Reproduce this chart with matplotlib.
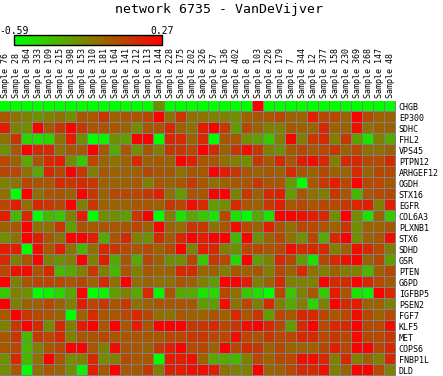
import numpy as np
import matplotlib
matplotlib.use('Agg')
from matplotlib import pyplot as plt
from matplotlib.colors import LinearSegmentedColormap, Normalize
from matplotlib.cm import ScalarMappable

# network heatmap, values
title = 'network 6735 - VanDeVijver'
vmin, vmax = -0.59, 0.27

samples = [76, 28, 364, 333, 109, 215, 398, 153, 310, 181, 164, 141,
           212, 113, 144, 228, 175, 202, 326, 57, 136, 402, 8, 103,
           226, 179, 7, 344, 12, 377, 158, 230, 369, 268, 147, 48]

genes = ['CHGB', 'EP300', 'SDHC', 'FHL2', 'VPS45', 'PTPN12', 'ARHGEF12',
         'OGDH', 'STX16', 'EGFR', 'COL6A3', 'PLXNB1', 'STX6', 'SDHD', 'GSR',
         'PTEN', 'G6PD', 'IGFBP5', 'PSEN2', 'FGF7', 'KLF5', 'MET', 'COPS6',
         'FNBP1L', 'DLD']

values = [
    # CHGB
    [-0.59, -0.59, -0.59, -0.59, -0.59, -0.59, -0.59, -0.59, -0.59, -0.59, -0.59, -0.59,
     -0.59, -0.59, -0.21, -0.59, -0.59, -0.59, -0.59, -0.59, -0.59, -0.59, -0.59, 0.27,
     -0.59, -0.59, -0.59, -0.59, -0.59, -0.59, -0.59, -0.59, -0.59, -0.59, -0.59, -0.59],
    # EP300
    [-0.02, -0.11, -0.16, -0.21, -0.16, -0.11, -0.21, -0.02, -0.02, 0.08, -0.06, -0.02,
     -0.02, 0.03, 0.27, -0.11, 0.08, -0.11, -0.11, -0.16, -0.16, -0.21, -0.06, -0.02,
     -0.02, 0.03, -0.06, -0.06, 0.17, 0.03, 0.03, -0.06, 0.27, 0.03, -0.06, -0.06],
    # SDHC
    [0.17, -0.16, -0.21, 0.27, -0.02, 0.08, 0.27, 0.08, -0.02, -0.02, -0.02, -0.06,
     -0.21, -0.02, -0.02, 0.13, -0.06, -0.11, 0.17, 0.27, 0.08, -0.26, 0.03, -0.06,
     -0.16, -0.16, -0.02, -0.06, -0.06, 0.13, -0.06, -0.06, 0.22, -0.11, -0.06, -0.06],
    # FHL2
    [-0.11, 0.08, -0.45, -0.49, -0.45, -0.11, 0.17, -0.21, -0.59, -0.54, -0.21, -0.26,
     0.27, 0.27, -0.59, 0.13, 0.13, -0.06, 0.13, -0.59, -0.02, -0.02, -0.21, -0.26,
     -0.40, -0.16, 0.27, -0.16, 0.08, 0.13, -0.16, 0.08, -0.26, -0.49, -0.16, -0.30],
    # VPS45
    [-0.21, -0.02, 0.27, 0.13, 0.13, -0.11, -0.02, -0.02, 0.27, -0.02, -0.30, -0.02,
     -0.21, -0.02, -0.16, 0.08, 0.08, 0.03, 0.27, 0.13, -0.06, 0.08, 0.22, 0.08,
     -0.16, -0.21, -0.02, 0.03, -0.02, 0.03, 0.08, -0.06, 0.03, -0.11, -0.11, -0.06],
    # PTPN12
    [0.03, -0.06, -0.30, -0.02, 0.13, 0.17, -0.21, -0.40, 0.03, -0.06, -0.11, -0.06,
     0.13, -0.06, -0.02, -0.06, 0.27, 0.17, -0.02, -0.02, -0.11, -0.16, -0.21, 0.08,
     -0.02, 0.13, -0.02, 0.17, 0.22, 0.13, -0.16, 0.13, 0.13, 0.03, 0.03, 0.13],
    # ARHGEF12
    [0.03, 0.03, -0.11, -0.30, 0.13, 0.03, 0.27, 0.08, -0.16, -0.02, -0.06, -0.06,
     -0.06, 0.03, -0.02, -0.02, -0.11, -0.02, -0.02, 0.27, 0.17, 0.08, -0.02, -0.06,
     -0.02, -0.06, 0.13, -0.02, -0.06, 0.03, -0.06, -0.06, 0.13, -0.06, 0.03, 0.03],
    # OGDH
    [-0.16, -0.11, 0.03, -0.02, -0.02, 0.13, 0.08, 0.13, 0.08, -0.06, -0.06, -0.06,
     -0.02, -0.16, -0.02, -0.06, -0.02, 0.08, -0.02, -0.11, -0.06, -0.02, -0.02, 0.08,
     -0.02, -0.02, -0.26, -0.59, -0.02, 0.08, 0.17, 0.03, 0.27, 0.03, 0.03, -0.02],
    # STX16
    [-0.11, -0.59, 0.27, -0.11, -0.02, -0.02, -0.06, 0.27, 0.08, -0.06, 0.03, 0.03,
     0.03, 0.08, 0.17, -0.11, -0.26, -0.02, -0.02, 0.27, 0.27, -0.16, 0.08, -0.06,
     0.13, 0.17, -0.26, -0.02, -0.11, -0.16, 0.08, -0.02, -0.35, -0.02, 0.03, 0.03],
    # EGFR
    [0.03, 0.17, -0.11, 0.13, 0.08, 0.03, 0.27, -0.16, 0.08, -0.06, -0.06, -0.06,
     -0.02, -0.02, -0.06, 0.08, 0.03, 0.22, 0.13, -0.26, -0.21, 0.13, -0.02, -0.06,
     0.08, 0.17, -0.02, 0.03, -0.02, 0.03, 0.03, 0.08, 0.13, 0.17, -0.16, 0.17],
    # COL6A3
    [0.17, -0.35, 0.13, -0.59, -0.35, -0.40, -0.16, 0.17, -0.59, -0.21, -0.21, -0.26,
     0.08, 0.27, -0.59, -0.16, -0.49, -0.30, -0.40, -0.49, 0.03, -0.49, -0.59, -0.30,
     -0.49, 0.27, 0.27, 0.22, 0.17, 0.13, -0.21, 0.27, -0.21, -0.49, -0.06, -0.40],
    # PLXNB1
    [-0.06, -0.02, 0.27, -0.11, -0.11, 0.08, -0.26, -0.02, -0.02, -0.02, -0.02, -0.02,
     0.03, -0.06, 0.27, -0.06, -0.11, 0.08, 0.08, -0.11, -0.02, 0.22, 0.03, -0.06,
     0.17, -0.02, -0.11, 0.03, 0.03, -0.02, -0.06, 0.08, -0.21, -0.06, -0.06, -0.02],
    # STX6
    [-0.21, -0.11, 0.27, 0.17, -0.02, -0.11, 0.27, 0.27, 0.17, -0.30, -0.02, 0.13,
     -0.16, -0.21, 0.13, -0.02, 0.13, 0.27, 0.17, 0.27, 0.27, -0.35, 0.27, -0.21,
     -0.06, 0.03, -0.11, -0.21, 0.03, -0.30, 0.13, 0.27, -0.21, -0.06, -0.02, 0.22],
    # SDHD
    [0.17, 0.17, -0.59, 0.22, -0.02, 0.17, -0.11, -0.35, -0.11, 0.13, 0.08, 0.03,
     -0.02, 0.03, -0.06, 0.03, 0.27, -0.16, 0.17, 0.13, -0.16, -0.21, 0.03, 0.03,
     -0.02, 0.03, 0.22, 0.13, 0.13, 0.13, -0.16, -0.06, 0.22, 0.13, 0.03, -0.16],
    # GSR
    [0.13, -0.16, -0.02, 0.27, -0.16, -0.21, -0.16, 0.27, -0.16, 0.17, -0.30, -0.02,
     -0.30, 0.03, -0.06, -0.21, -0.21, 0.03, -0.40, 0.08, 0.03, -0.45, 0.27, -0.26,
     -0.16, 0.13, 0.03, -0.26, -0.49, 0.03, 0.13, 0.22, 0.27, -0.06, 0.03, -0.26],
    # PTEN
    [0.03, 0.22, 0.22, -0.02, 0.13, -0.35, -0.30, -0.16, 0.08, -0.16, -0.35, -0.02,
     -0.16, -0.02, -0.06, -0.06, 0.13, 0.13, -0.06, -0.06, -0.16, -0.02, -0.06, -0.02,
     -0.16, 0.03, -0.06, 0.13, -0.11, -0.16, -0.06, -0.16, -0.16, -0.35, -0.06, 0.03],
    # G6PD
    [0.27, -0.16, -0.02, 0.03, 0.03, 0.03, -0.02, 0.03, -0.06, 0.13, -0.11, 0.27,
     -0.11, -0.06, -0.11, -0.11, -0.02, -0.06, -0.16, -0.26, 0.27, 0.27, 0.17, -0.16,
     -0.06, 0.13, -0.16, -0.16, -0.16, 0.27, 0.13, 0.13, 0.27, 0.13, 0.03, -0.02],
    # IGFBP5
    [-0.40, -0.16, -0.21, -0.59, -0.54, -0.45, -0.30, 0.27, -0.59, -0.54, -0.26, -0.16,
     -0.30, 0.13, -0.54, -0.02, -0.30, -0.30, -0.49, -0.45, 0.03, -0.11, -0.40, -0.49,
     -0.59, 0.03, -0.40, -0.16, -0.02, -0.40, 0.17, -0.02, -0.49, -0.54, 0.27, 0.13],
    # PSEN2
    [0.27, -0.16, -0.06, -0.06, 0.03, -0.06, -0.16, 0.17, 0.03, 0.08, -0.02, 0.08,
     -0.11, -0.06, -0.02, -0.02, -0.02, -0.02, -0.26, -0.26, 0.22, -0.11, 0.03, -0.16,
     0.13, -0.16, -0.30, -0.16, -0.45, -0.16, 0.27, 0.13, 0.17, -0.06, -0.06, -0.16],
    # FGF7
    [-0.02, 0.27, 0.08, 0.03, -0.02, -0.06, -0.59, -0.06, 0.13, -0.02, -0.02, 0.03,
     0.13, 0.03, -0.11, -0.11, -0.02, -0.06, -0.06, -0.02, -0.06, 0.13, -0.02, 0.08,
     -0.26, 0.03, -0.02, 0.13, 0.13, 0.03, -0.02, 0.03, 0.22, 0.03, -0.06, 0.03],
    # KLF5
    [-0.16, 0.08, 0.27, 0.13, -0.21, 0.13, -0.16, 0.17, 0.27, -0.02, 0.27, -0.02,
     0.17, -0.02, 0.27, 0.27, 0.27, 0.08, 0.08, 0.13, 0.03, 0.08, 0.22, 0.27,
     0.13, 0.03, -0.26, 0.13, 0.27, 0.03, 0.13, 0.13, 0.27, 0.03, 0.03, 0.22],
    # MET
    [-0.02, 0.08, -0.35, 0.08, 0.03, 0.13, -0.16, -0.02, -0.02, 0.03, -0.02, -0.02,
     -0.02, -0.02, -0.02, 0.03, 0.03, 0.08, 0.08, 0.03, 0.03, 0.22, 0.03, -0.02,
     0.08, 0.03, 0.03, 0.13, 0.13, 0.03, 0.08, 0.03, 0.22, 0.03, 0.03, 0.08],
    # COPS6
    [-0.02, 0.03, -0.35, -0.16, -0.02, 0.03, 0.27, 0.27, -0.02, -0.16, 0.22, -0.02,
     -0.02, -0.06, 0.08, 0.17, 0.27, 0.03, 0.03, -0.06, 0.27, 0.03, 0.13, 0.08,
     -0.06, 0.03, -0.06, -0.06, -0.06, 0.03, 0.17, 0.03, 0.27, 0.27, 0.03, 0.13],
    # FNBP1L
    [-0.21, 0.13, -0.35, -0.11, 0.27, -0.02, -0.21, -0.16, 0.13, -0.21, -0.16, 0.03,
     -0.02, -0.02, -0.59, 0.17, 0.17, 0.22, -0.06, -0.30, -0.30, -0.35, -0.16, 0.03,
     -0.06, 0.03, 0.03, 0.22, 0.22, 0.13, -0.16, 0.13, -0.16, -0.06, -0.16, 0.13],
    # DLD
    [-0.21, -0.02, -0.59, -0.11, -0.02, -0.06, -0.21, -0.54, 0.17, -0.02, 0.27, -0.02,
     -0.02, 0.08, -0.16, 0.17, 0.17, 0.22, 0.22, 0.17, -0.11, -0.16, -0.16, 0.27,
     -0.06, -0.06, 0.03, 0.13, 0.13, 0.22, -0.16, -0.06, 0.27, 0.27, 0.03, -0.16],
]

mono = 'DejaVu Sans Mono'
W, H = 443, 376

cmap = LinearSegmentedColormap.from_list('green_red', ['#00ff00', '#ff0000'])
norm = Normalize(vmin=vmin, vmax=vmax)
data = np.array(values)
nrow, ncol = data.shape
cell = 10 / 11   # one pixel of grey left between neighbouring cells

fig = plt.figure(figsize=(W / 100, H / 100), dpi=100)

# main grid of cells: grey background shows through the 1px gaps
ax = fig.add_axes([0, 0, 396 / W, 275 / H])
ax.set_facecolor('#808080')
cols = np.arange(ncol)
for i, row in enumerate(data):
    ax.bar(cols, cell, width=cell, bottom=i, align='edge',
           color=cmap(norm(row)), linewidth=0, antialiased=False)
ax.set_xlim(0, ncol)
ax.set_ylim(nrow, 0)
for s in ax.spines.values():
    s.set_visible(False)

ax.xaxis.tick_top()
ax.set_xticks(cols + 0.5)
ax.set_xticklabels(['Sample %d' % s for s in samples], rotation=90,
                   fontfamily=mono, fontsize=6)
ax.yaxis.tick_right()
ax.set_yticks(np.arange(nrow) + 0.5)
ax.set_yticklabels(genes, fontfamily=mono, fontsize=6)
ax.tick_params(length=0, pad=2)

# colour scale bar
cax = fig.add_axes([14 / W, 1 - 44.5 / H, 148 / W, 9.5 / H])
cb = fig.colorbar(ScalarMappable(norm=norm, cmap=cmap), cax=cax,
                  orientation='horizontal')
cb.set_ticks([])
cb.outline.set_linewidth(1)
cb.outline.set_edgecolor('black')
fig.text(14 / W, 1 - 34 / H, '%.2f' % vmin, ha='center', va='baseline',
         fontfamily=mono, fontsize=7)
fig.text(162 / W, 1 - 34 / H, '%.2f' % vmax, ha='center', va='baseline',
         fontfamily=mono, fontsize=7)

fig.text(219 / W, 1 - 13 / H, title, ha='center', va='baseline',
         fontfamily=mono, fontsize=9.5)

fig.savefig('out.png', dpi=100)
